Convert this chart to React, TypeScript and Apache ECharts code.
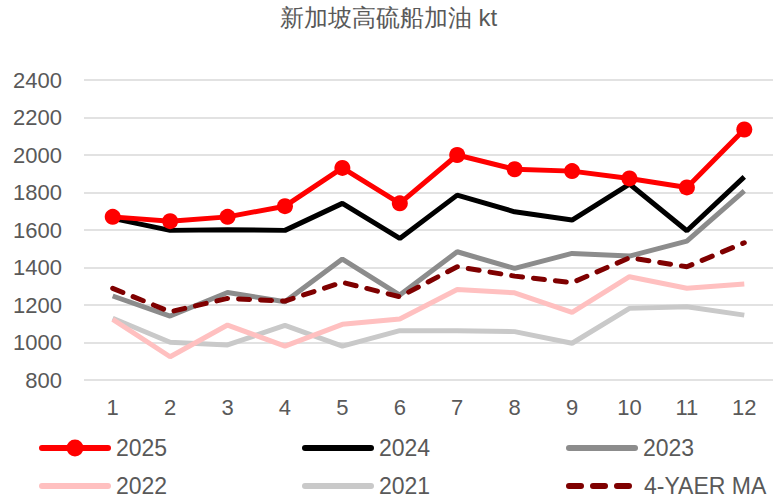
import React, { useEffect, useRef } from "react";
import * as echarts from "echarts";

const months = ["1", "2", "3", "4", "5", "6", "7", "8", "9", "10", "11", "12"];
const y2025 = [1670, 1647, 1670, 1727, 1931, 1742, 2000, 1924, 1914, 1875, 1827, 2136];
const y2024 = [1662, 1598, 1601, 1598, 1742, 1555, 1786, 1697, 1653, 1845, 1596, 1883];
const y2023 = [1248, 1141, 1267, 1217, 1445, 1253, 1484, 1395, 1475, 1461, 1541, 1809];
const y2022 = [1123, 924, 1093, 981, 1097, 1125, 1283, 1265, 1161, 1351, 1289, 1312];
const y2021 = [1129, 1001, 987, 1091, 981, 1063, 1063, 1058, 996, 1182, 1191, 1146];
const ma4 = [1289, 1164, 1235, 1221, 1321, 1244, 1404, 1354, 1319, 1452, 1404, 1532];

const FONT = "'Liberation Sans', Arial, sans-serif";
const TXT = "#595959";

const BAR_ICON = "path://M3,0 H69 A3,3 0 0 1 69,6 H3 A3,3 0 0 1 3,0 Z";
const MARK_ICON =
  "path://M3,5.5 H69 A3,3 0 0 1 69,11.5 H3 A3,3 0 0 1 3,5.5 Z M27.5,8.5 A8.5,8.5 0 1 1 44.5,8.5 A8.5,8.5 0 1 1 27.5,8.5 Z";
const DASH_ICON =
  "path://M3,0 H15 A3,3 0 0 1 15,6 H3 A3,3 0 0 1 3,0 Z M27,0 H39 A3,3 0 0 1 39,6 H27 A3,3 0 0 1 27,0 Z M51,0 H63 A3,3 0 0 1 63,6 H51 A3,3 0 0 1 51,0 Z";

export default function App() {
  const ref = useRef<HTMLDivElement>(null);
  useEffect(() => {
    if (!ref.current) return;
    const chart = echarts.init(ref.current, undefined, { renderer: "svg" });
    const legendPos = [
      { name: "2025", left: 39, row: 0, icon: MARK_ICON, w: 72, h: 17, gapText: 0 },
      { name: "2024", left: 302, row: 0, icon: BAR_ICON, w: 72, h: 6, gapText: 0 },
      { name: "2023", left: 566, row: 0, icon: BAR_ICON, w: 72, h: 6, gapText: 0 },
      { name: "2022", left: 39, row: 1, icon: BAR_ICON, w: 72, h: 6, gapText: 0 },
      { name: "2021", left: 302, row: 1, icon: BAR_ICON, w: 72, h: 6, gapText: 0 },
      { name: "4-YAER MA", left: 566, row: 1, icon: DASH_ICON, w: 66, h: 6, gapText: 7 },
    ];
    const rowCenters = [448, 486];
    const LFS = 23;
    const line = (name: string, data: number[], color: string, extra: any = {}) => ({
      name,
      type: "line",
      data,
      symbol: "none",
      lineStyle: { color, width: 5 },
      itemStyle: { color },
      ...extra,
    });
    chart.setOption({
      animation: false,
      textStyle: { fontFamily: FONT },
      title: {
        text: "新加坡高硫船加油 kt",
        left: "center",
        top: 0,
        padding: [5, 5, 5, 29],
        textStyle: { fontSize: 24, fontWeight: "normal", color: TXT, fontFamily: FONT },
      },
      legend: legendPos.map((l) => ({
        data: [{ name: l.name, icon: l.icon }],
        left: l.left,
        top: rowCenters[l.row] - LFS / 2,
        padding: 0,
        itemWidth: l.w,
        itemHeight: l.h,
        itemGap: 4,
        itemStyle: { borderWidth: 0 },
        lineStyle: { width: 0 },
        textStyle: { fontSize: LFS, color: TXT, fontFamily: FONT, padding: [0, 0, 0, l.gapText] },
      })),
      grid: { left: 84, right: 4, top: 80, bottom: 114, containLabel: false },
      xAxis: {
        type: "category",
        data: months,
        boundaryGap: true,
        axisLine: { show: false },
        axisTick: { show: false },
        axisLabel: { fontSize: 22, color: TXT, margin: 16, fontFamily: FONT },
      },
      yAxis: {
        type: "value",
        min: 800,
        max: 2400,
        interval: 200,
        axisLine: { show: false },
        axisTick: { show: false },
        axisLabel: {
          fontSize: 22,
          color: TXT,
          margin: 22,
          fontFamily: FONT,
          formatter: (v: number) => String(v),
        },
        splitLine: { lineStyle: { color: "#d9d9d9", width: 1.5 } },
      },
      series: [
        line("2021", y2021, "#c9c9c9"),
        line("2022", y2022, "#ffc0c0"),
        line("2023", y2023, "#8c8c8c"),
        line("4-YAER MA", ma4, "#7f0000", {
          lineStyle: { color: "#7f0000", width: 5, type: [11, 11], cap: "round" },
        }),
        line("2024", y2024, "#000000"),
        line("2025", y2025, "#ff0000", { symbol: "circle", symbolSize: 16 }),
      ],
    });
    return () => chart.dispose();
  }, []);
  return <div ref={ref} style={{ width: 777, height: 494, position: "absolute", left: 0, top: 0 }} />;
}
